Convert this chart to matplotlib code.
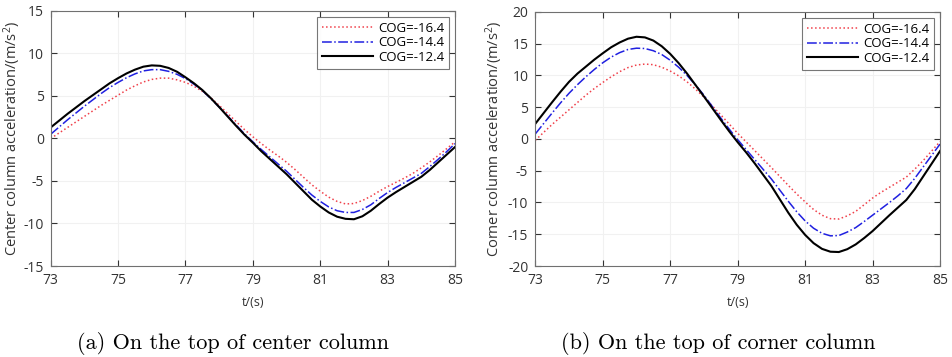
import matplotlib
matplotlib.use('Agg')
import matplotlib.pyplot as plt

# time axis, every 0.25 s
t = [73.0 + 0.25 * i for i in range(49)]

labels = ['COG=-16.4', 'COG=-14.4', 'COG=-12.4']

# (a) center column acceleration, m/s^2
center_164 = [0.0, 0.65, 1.3, 1.95, 2.6, 3.25, 3.9, 4.5, 5.1, 5.7, 6.2, 6.65, 6.95,
              7.1, 7.1, 6.9, 6.6, 6.15, 5.55, 4.8, 3.9, 2.95, 2.0, 1.05, 0.2,
              -0.6, -1.35, -2.05, -2.8, -3.65, -4.55, -5.45, -6.2, -6.9, -7.4, -7.7,
              -7.65, -7.3, -6.8, -6.2, -5.65, -5.15, -4.65, -4.1, -3.45, -2.75, -2.0,
              -1.2, -0.4]
center_144 = [0.5, 1.35, 2.2, 3.0, 3.8, 4.55, 5.3, 6.0, 6.6, 7.15, 7.6, 7.95, 8.1,
              8.1, 7.9, 7.55, 7.05, 6.4, 5.65, 4.7, 3.7, 2.65, 1.6, 0.55, -0.4,
              -1.3, -2.15, -3.0, -3.85, -4.8, -5.75, -6.65, -7.4, -8.05, -8.5, -8.7,
              -8.7, -8.35, -7.8, -7.05, -6.35, -5.75, -5.2, -4.65, -4.1, -3.3, -2.45,
              -1.55, -0.6]
center_124 = [1.3, 2.1, 2.9, 3.65, 4.4, 5.1, 5.8, 6.5, 7.1, 7.65, 8.1, 8.45, 8.6,
              8.55, 8.3, 7.85, 7.2, 6.5, 5.7, 4.75, 3.7, 2.6, 1.5, 0.45, -0.5,
              -1.5, -2.4, -3.3, -4.2, -5.2, -6.2, -7.2, -8.0, -8.7, -9.2, -9.45,
              -9.5, -9.15, -8.5, -7.7, -6.95, -6.3, -5.7, -5.1, -4.5, -3.7, -2.8,
              -1.9, -1.0]

# (b) corner column acceleration, m/s^2
corner_164 = [-0.2, 1.05, 2.3, 3.45, 4.6, 5.75, 6.9, 7.95, 8.9, 9.8, 10.6, 11.25, 11.65,
              11.8, 11.7, 11.3, 10.7, 9.95, 9.0, 7.85, 6.6, 5.2, 3.8, 2.35, 0.9,
              -0.45, -1.8, -3.15, -4.5, -5.9, -7.3, -8.65, -9.9, -11.1, -12.0, -12.55,
              -12.6, -12.1, -11.4, -10.35, -9.3, -8.4, -7.6, -6.8, -6.0, -4.75, -3.4,
              -1.9, -0.4]
corner_144 = [0.8, 2.45, 4.1, 5.7, 7.2, 8.55, 9.8, 10.95, 12.0, 12.9, 13.6, 14.1, 14.3,
              14.25, 13.9, 13.3, 12.4, 11.3, 10.0, 8.5, 6.9, 5.1, 3.3, 1.55, -0.1,
              -1.65, -3.2, -4.75, -6.3, -8.05, -9.8, -11.45, -12.9, -14.05, -14.85, -15.25,
              -15.2, -14.65, -13.95, -13.0, -12.0, -11.0, -10.0, -8.95, -7.8, -6.2, -4.4,
              -2.6, -0.8]
corner_124 = [2.4, 4.1, 5.8, 7.45, 9.0, 10.3, 11.4, 12.5, 13.5, 14.45, 15.2, 15.8, 16.1,
              16.0, 15.5, 14.6, 13.4, 11.95, 10.3, 8.5, 6.7, 4.85, 3.0, 1.2, -0.5,
              -2.1, -3.8, -5.6, -7.4, -9.5, -11.6, -13.5, -15.1, -16.4, -17.3, -17.75,
              -17.8, -17.35, -16.6, -15.6, -14.5, -13.25, -12.0, -10.8, -9.6, -7.9, -5.9,
              -3.9, -1.9]

xticks = [73, 75, 77, 79, 81, 83, 85]

plt.rcParams['font.family'] = ['Open Sans', 'DejaVu Sans']
plt.rcParams['mathtext.default'] = 'regular'
plt.rcParams['axes.unicode_minus'] = False

fig = plt.figure(figsize=(9.53, 3.57), dpi=100)
ax1 = fig.add_axes([0.0532, 0.2549, 0.4243, 0.7143])
ax2 = fig.add_axes([0.5617, 0.2549, 0.4247, 0.7115])

styles = [dict(color='#f0404a', ls=':', lw=1.1),
          dict(color='#2020e0', ls='-.', lw=1.1),
          dict(color='black', ls='-', lw=1.5)]

panels = [
    (ax1, [center_164, center_144, center_124], (-15, 15), range(-15, 16, 5),
     'Center column acceleration/(m/s$^{2}$)', '(a) On the top of center column', -0.068, 0.45),
    (ax2, [corner_164, corner_144, corner_124], (-20, 20), range(-20, 21, 5),
     'Corner column acceleration/(m/s$^{2}$)', '(b) On the top of corner column', -0.075, 0.453),
]

for ax, series, ylim, yticks, ylab, cap, ylx, capx in panels:
    for y, st, lab in zip(series, styles, labels):
        ax.plot(t, y, label=lab, **st)
    ax.set_xlim(73, 85)
    ax.set_ylim(*ylim)
    ax.set_xticks(xticks)
    ax.set_yticks(list(yticks))
    ax.grid(True, color='#f1f1f1', lw=0.8)
    ax.set_axisbelow(True)
    ax.tick_params(direction='in', top=True, right=True, length=4,
                   labelsize=10, colors='#333333', pad=5)
    for s in ax.spines.values():
        s.set_color('#707070')
        s.set_linewidth(0.8)
    ax.set_ylabel(ylab, fontsize=10.5, color='#333333')
    ax.yaxis.set_label_coords(ylx, 0.5)
    ax.set_xlabel('t/(s)', fontsize=9, color='#333333', labelpad=5.5)
    leg = ax.legend(loc='upper right', fontsize=9.5, frameon=True, fancybox=False,
                    edgecolor='#555555', handlelength=3.9, borderaxespad=0.45,
                    labelspacing=0.13, handletextpad=0.4, borderpad=0.35)
    leg.get_frame().set_linewidth(0.8)
    # caption under each panel
    ax.text(capx, -0.305, cap, transform=ax.transAxes,
            ha='center', va='center', fontsize=16, family='cmr10')

fig.savefig('out.png', dpi=100)
